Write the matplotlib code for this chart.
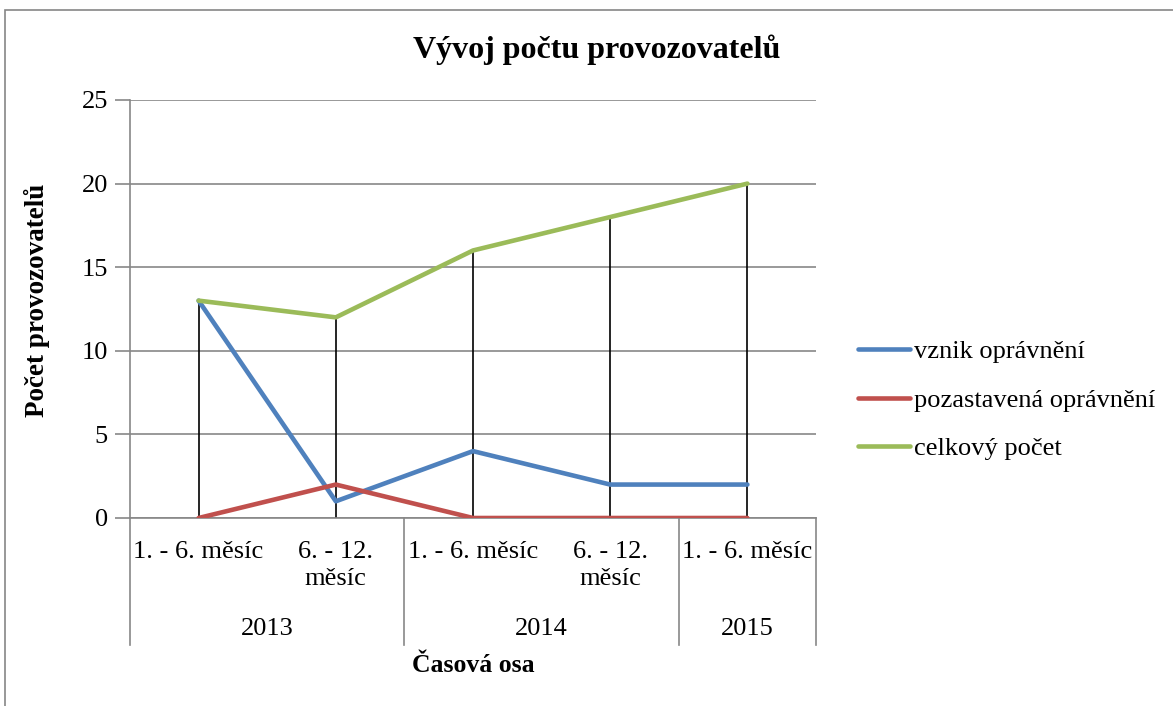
import matplotlib.pyplot as plt
from matplotlib.lines import Line2D
from matplotlib.patches import Rectangle

plt.rcParams['font.family'] = ['Liberation Serif', 'DejaVu Serif']

# data
periods = ["1. - 6. měsíc", "6. - 12.\nměsíc", "1. - 6. měsíc", "6. - 12.\nměsíc", "1. - 6. měsíc"]
years = ["2013", "2014", "2015"]
year_counts = [2, 2, 1]
vznik = [13, 1, 4, 2, 2]
pozastavena = [0, 2, 0, 0, 0]
celkem = [13, 12, 16, 18, 20]
series_names = ["vznik oprávnění", "pozastavená oprávnění", "celkový počet"]
colors = ["#4F81BD", "#C0504D", "#9BBB59"]

fig = plt.figure(figsize=(11.73, 7.06), dpi=100)
W, H = 1173, 706

# outer chart border
fig.patches.append(Rectangle((5 / W, -0.01), 1.1, 1 - 10 / H + 0.01, transform=fig.transFigure,
                             fill=False, edgecolor="#868686", linewidth=1.2))

ax = fig.add_axes([130 / W, 1 - 518 / H, 686 / W, 418 / H])
x = list(range(len(periods)))
ax.set_xlim(-0.5, len(periods) - 0.5)
ax.set_ylim(0, 25)
ax.set_yticks([0, 5, 10, 15, 20, 25])
ax.grid(axis="y", color="#878787", linewidth=1.2)
ax.set_axisbelow(True)
for s in ["top", "right"]:
    ax.spines[s].set_visible(False)
ax.spines["left"].set_color("#878787")
ax.spines["bottom"].set_color("#878787")
ax.spines["left"].set_linewidth(1.2)
ax.spines["bottom"].set_linewidth(1.2)
ax.tick_params(axis="y", length=11, width=1.2, color="#878787", labelsize=19, pad=5)
ax.set_xticks([])

# drop lines
tops = [max(a, b, c) for a, b, c in zip(vznik, pozastavena, celkem)]
ax.vlines(x, 0, tops, color="black", linewidth=1.2, zorder=2)

for vals, c in zip([vznik, pozastavena, celkem], colors):
    ax.plot(x, vals, color=c, linewidth=3.3, solid_capstyle="round", zorder=3)

# category labels (two levels)
for i, p in enumerate(periods):
    ax.text(i, -1.35, p, ha="center", va="top", fontsize=19, linespacing=1.3,
            transform=ax.transData, clip_on=False)

ax_tr = ax.get_xaxis_transform()
bounds = [-0.5]
for n in year_counts:
    bounds.append(bounds[-1] + n)
for b in bounds:
    ax.plot([b, b], [0, -127 / 418], color="#878787", linewidth=1.2,
            transform=ax_tr, clip_on=False)
for yr, b0, b1 in zip(years, bounds[:-1], bounds[1:]):
    ax.text((b0 + b1) / 2, -111 / 418, yr, ha="center", va="center", fontsize=19,
            transform=ax_tr)

ax.text(0.5, -147 / 418, "Časová osa", ha="center", va="center", fontsize=18.5,
        fontweight="bold", transform=ax.transAxes)
ax.set_ylabel("Počet provozovatelů", fontsize=19.5, fontweight="bold")
ax.yaxis.set_label_coords(-80 / 686, 0.52)
fig.text(597 / W, 1 - 50 / H, "Vývoj počtu provozovatelů", ha="center", va="center",
         fontsize=23, fontweight="bold")

handles = [Line2D([], [], color=c, linewidth=3.3, solid_capstyle="round") for c in colors]
fig.legend(handles, series_names, loc="center left", bbox_to_anchor=(847 / W, 1 - 400 / H),
           frameon=False, fontsize=19, handlelength=2.0, handletextpad=0.12,
           labelspacing=0.95, borderaxespad=0)

fig.savefig("out.png", dpi=100)
